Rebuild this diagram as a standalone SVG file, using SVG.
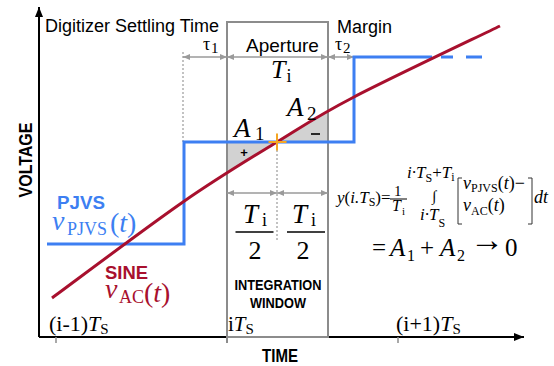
<svg xmlns="http://www.w3.org/2000/svg" width="554" height="366" viewBox="0 0 554 366">
<style>
.s{font-family:"Liberation Sans",Arial,sans-serif}
.b{font-weight:bold}
.m{font-family:"Liberation Serif","Times New Roman",serif}
.i{font-style:italic}
.dim{stroke:#9a9a9a;stroke-width:1.5;fill:none;marker-start:url(#da);marker-end:url(#da)}
.dot{stroke:#9a9a9a;stroke-width:1.2;stroke-dasharray:2 2;fill:none}
.blue{fill:#3d7ff2}
.red{fill:#a8102e}
</style>
<defs>
<marker id="ax" viewBox="0 0 10 8" refX="10" refY="4" markerWidth="10" markerHeight="8" markerUnits="userSpaceOnUse" orient="auto"><path d="M0,0 L10,4 L0,8 Z" fill="#000"/></marker>
<marker id="da" viewBox="0 0 7 6" refX="7" refY="3" markerWidth="7" markerHeight="6" markerUnits="userSpaceOnUse" orient="auto-start-reverse"><path d="M0,0 L7,3 L0,6 Z" fill="#9a9a9a"/></marker>
</defs>

<g id="shading">
<path d="M227,142 L277,142 L248.5,159.5 L227,173 Z" fill="#d2d2d2"/>
<path d="M277,142 L328,142 L328,111 L305.5,124.5 Z" fill="#d2d2d2"/>
</g>

<g id="axes">
<line x1="39" y1="337" x2="39" y2="7" stroke="#000" stroke-width="2" marker-end="url(#ax)"/>
<line x1="39" y1="337" x2="524" y2="337" stroke="#000" stroke-width="2" marker-end="url(#ax)"/>
<line x1="56" y1="337" x2="56" y2="343" stroke="#8c8c8c" stroke-width="1.5"/>
<line x1="398" y1="337" x2="398" y2="343" stroke="#8c8c8c" stroke-width="1.5"/>
</g>

<g id="aperture-box">
<rect x="227" y="22" width="101" height="315" fill="none" stroke="#8c8c8c" stroke-width="2"/>
<line x1="227" y1="337" x2="227" y2="343" stroke="#8c8c8c" stroke-width="2"/>
</g>

<g id="connectors">
<line class="dim" x1="183" y1="57" x2="227" y2="57"/>
<line class="dim" x1="227" y1="57" x2="328" y2="57"/>
<line class="dim" x1="328" y1="57" x2="354" y2="57"/>
<line class="dim" x1="227" y1="193" x2="277" y2="193"/>
<line class="dim" x1="277" y1="193" x2="328" y2="193"/>
<line class="dot" x1="183" y1="52" x2="183" y2="142"/>
<line class="dot" x1="277" y1="142" x2="277" y2="240"/>
</g>

<g id="pjvs">
<path d="M47,244 H184 V142 H354 V57 H432 M441,57 H453 M466,57 H482" fill="none" stroke="#3d7ff2" stroke-width="3"/>
<text x="57" y="209" class="s b blue" font-size="19" textLength="48" lengthAdjust="spacingAndGlyphs">PJVS</text>
<text x="52" y="230" class="m i blue" font-size="28">v</text>
<text x="67" y="235" class="m blue" font-size="18">PJVS</text>
<text x="110" y="232" class="m blue" font-size="28">(<tspan class="i">t</tspan>)</text>
</g>

<g id="sine">
<path d="M52,298 C73.8,282 145.5,228 183,202 C220.5,176 248.5,159.5 277,142 C305.5,124.5 316.8,116.3 354,97 C391.2,77.7 475.7,37.8 500,26" fill="none" stroke="#a8102e" stroke-width="3"/>
<text x="105" y="279" class="s b red" font-size="19" textLength="43" lengthAdjust="spacingAndGlyphs">SINE</text>
<text x="105" y="298" class="m i red" font-size="28">v</text>
<text x="119" y="303" class="m red" font-size="18">AC</text>
<text x="144" y="302" class="m red" font-size="28">(<tspan class="i">t</tspan>)</text>
</g>

<g id="crossing">
<path d="M268.5,142 H286.5 M277,133.5 V150.5" stroke="#f5a623" stroke-width="2"/>
</g>

<g id="labels-top">
<text x="45" y="32" class="s" font-size="18">Digitizer Settling Time</text>
<text x="337" y="33" class="s" font-size="18">Margin</text>
<text x="246" y="52" class="s" font-size="19">Aperture</text>
<text x="203" y="50" class="m" font-size="18">τ</text>
<text x="211" y="53" class="m" font-size="15">1</text>
<text x="335" y="50" class="m" font-size="18">τ</text>
<text x="343" y="53" class="m" font-size="15">2</text>
<text x="271" y="78" class="m i" font-size="26">T</text>
<text x="286.5" y="82" class="m" font-size="18">i</text>
</g>

<g id="areas">
<text x="234" y="137" class="m i" font-size="27">A</text>
<text x="255" y="140" class="m" font-size="19">1</text>
<text x="287" y="116" class="m i" font-size="27">A</text>
<text x="307" y="120" class="m" font-size="19">2</text>
<text x="244" y="157" class="s b" font-size="13" text-anchor="middle">+</text>
<line x1="311" y1="134" x2="320" y2="134" stroke="#000" stroke-width="1.6"/>
</g>

<g id="half-windows">
<text x="243" y="223" class="m i" font-size="27">T</text>
<text x="262" y="226" class="m" font-size="18">i</text>
<line x1="235.5" y1="232" x2="273.5" y2="232" stroke="#000" stroke-width="1.3"/>
<text x="255" y="259" class="m" font-size="26" text-anchor="middle">2</text>
<text x="292" y="223" class="m i" font-size="27">T</text>
<text x="311" y="226" class="m" font-size="18">i</text>
<line x1="287" y1="232" x2="325" y2="232" stroke="#000" stroke-width="1.3"/>
<text x="303" y="259" class="m" font-size="26" text-anchor="middle">2</text>
<text x="234.5" y="290" class="s b" font-size="15" textLength="87" lengthAdjust="spacingAndGlyphs">INTEGRATION</text>
<text x="250" y="308" class="s b" font-size="15" textLength="56" lengthAdjust="spacingAndGlyphs">WINDOW</text>
</g>

<g id="axis-labels">
<text transform="translate(32,160) rotate(-90)" class="s b" font-size="19" text-anchor="middle" textLength="75" lengthAdjust="spacingAndGlyphs">VOLTAGE</text>
<text x="262" y="362" class="s b" font-size="19" textLength="36" lengthAdjust="spacingAndGlyphs">TIME</text>
<text x="49" y="331" class="m" font-size="22">(i-1)<tspan class="i">T</tspan><tspan font-size="15" dy="3">S</tspan></text>
<text x="228" y="331" class="m" font-size="21">i<tspan class="i">T</tspan><tspan font-size="15" dy="3">S</tspan></text>
<text x="396" y="331" class="m" font-size="22">(i+1)<tspan class="i">T</tspan><tspan font-size="15" dy="3">S</tspan></text>
</g>

<g id="formula">
<text x="337" y="203" class="m" font-size="17"><tspan class="i">y</tspan>(<tspan class="i">i.T</tspan><tspan font-size="12" dy="3">S</tspan><tspan dy="-3">)=</tspan></text>
<text x="394" y="196" class="m" font-size="15">1</text>
<line x1="390" y1="199" x2="407" y2="199" stroke="#000" stroke-width="1"/>
<text x="392" y="211" class="m i" font-size="16">T</text>
<text x="402" y="215" class="m" font-size="11">i</text>
<text x="407" y="178" class="m" font-size="17"><tspan class="i">i·T</tspan><tspan font-size="12" dy="4">S</tspan><tspan dy="-4">+</tspan><tspan class="i">T</tspan><tspan font-size="12" dy="3">i</tspan></text>
<text x="432" y="201" class="m" font-size="15">∫</text>
<text x="420" y="220" class="m" font-size="17"><tspan class="i">i·T</tspan><tspan font-size="12" dy="7">S</tspan></text>
<path d="M462,178 H458 V224 H462 M528,178 H532 V224 H528" fill="none" stroke="#333" stroke-width="1"/>
<text x="463" y="189" class="m" font-size="18"><tspan class="i">v</tspan><tspan font-size="12" dy="3">PJVS</tspan><tspan dy="-3">(</tspan><tspan class="i">t</tspan>)−</text>
<text x="463" y="211" class="m" font-size="18"><tspan class="i">v</tspan><tspan font-size="12" dy="4">AC</tspan><tspan dy="-4">(</tspan><tspan class="i">t</tspan>)</text>
<text x="534" y="203" class="m i" font-size="18">dt</text>
<text y="256" class="m" font-size="25"><tspan x="372">=</tspan><tspan x="390" class="i">A</tspan><tspan x="407" font-size="16" dy="5">1</tspan><tspan x="420" dy="-5">+</tspan><tspan x="440" class="i">A</tspan><tspan x="457" font-size="16" dy="5">2</tspan><tspan x="470" dy="-10" font-size="34">→</tspan><tspan x="505" dy="5">0</tspan></text>
</g>
</svg>
